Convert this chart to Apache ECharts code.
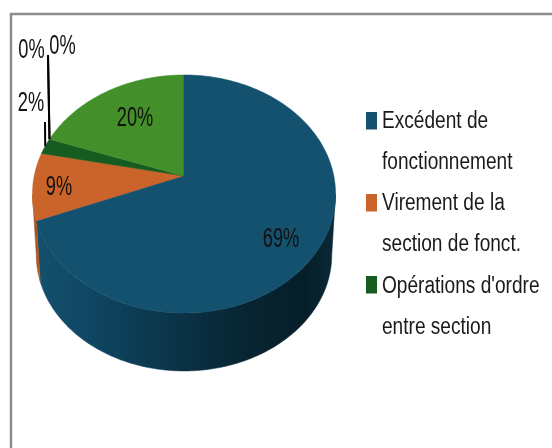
<!DOCTYPE html>
<html><head><meta charset="utf-8">
<style>html,body{margin:0;padding:0;background:#fff}#c{width:552px;height:448px}</style>
<script src="https://cdn.jsdelivr.net/npm/echarts@6/dist/echarts.min.js"></script>
</head><body><div id="c"></div>
<script>
const categories = ["Excédent de\nfonctionnement", "Virement de la\nsection de fonct.", "Opérations d'ordre\nentre section", "", " ", "  "];
const values = [69.0, 9.2, 2.2, 0, 0, 19.6];
const legendItems = categories.slice(0, 3);

const colors = ["#13516f", "#cb642a", "#165c20", "#13516f", "#cb642a", "#43902a"];
const labelPos = [[281,239],[59,187],[31,103],[31.5,50],[62.5,46.5],[135,118]];
const leaderEnd = [null,null,[45,122],[48,55],[48,55],null];

// Perspective of the pie's top circle
const AX = 184, AY = 176, A = 149.8, B = 116.3, K = -0.151;
const SHRINK = 0.975, DROP = 61.4;
const total = values.reduce((a,b)=>a+b,0);

function topPt(phiDeg){
  const p = phiDeg*Math.PI/180, x = Math.sin(p), y = -Math.cos(p), d = 1+K*y;
  return [AX + A*x/d, AY + B*y/d];
}
function botPt(phiDeg){
  const t = topPt(phiDeg);
  return [AX + (t[0]-AX)*SHRINK, AY + (t[1]-AY)*SHRINK + DROP];
}
function arc(f, a, b){
  const pts = [], n = Math.max(2, Math.ceil(Math.abs(b-a)));
  for(let i=0;i<=n;i++) pts.push(f(a+(b-a)*i/n));
  return pts;
}
const wallFill = (c) => new echarts.graphic.LinearGradient(0,0,1,0,c);
const wallStops = {
  0: [{offset:0,color:"#13516f"},{offset:.2,color:"#0f4560"},{offset:.45,color:"#0b3449"},{offset:.7,color:"#072531"},{offset:.9,color:"#061e29"},{offset:1,color:"#0a2a39"}],
  1: [{offset:0,color:"#a0501f"},{offset:1,color:"#b85a25"}]
};
function renderSlice(params, api){
  const i = params.seriesIndex, v = api.value(0);
  let cum = 0;
  for(let k=0;k<i;k++) cum += values[k];
  const a = cum/total*360, b = (cum+v)/total*360, children = [];
  if(v > 0){
    const fa = Math.max(a,98.7), fb = Math.min(b,261.3);
    if(fb > fa){
      const pts = arc(topPt,fa,fb).concat(arc(botPt,fb,fa));
      const fill = wallFill(wallStops[i] || wallStops[0]);
      children.push({type:"polygon",shape:{points:pts},style:{fill,stroke:fill,lineWidth:.5},z2:1});
    }
    children.push({type:"polygon",shape:{points:[[AX,AY]].concat(arc(topPt,a,b))},
      style:{fill:colors[i],stroke:colors[i],lineWidth:.5},z2:i===0?3:2});
  }
  if(leaderEnd[i]){
    const s = topPt((a+b)/2), e = leaderEnd[i];
    children.push({type:"line",shape:{x1:s[0],y1:s[1],x2:e[0],y2:e[1]},style:{stroke:"#000",lineWidth:2},z2:4});
  }
  children.push({type:"text",x:labelPos[i][0],y:labelPos[i][1],scaleX:.76,scaleY:1.18,z2:5,
    style:{text:Math.round(v/total*100)+"%",fill:"#111",align:"center",verticalAlign:"middle",
      font:'24px "Liberation Sans"'}});
  return {type:"group",children};
}
const legendGraphic = legendItems.flatMap((name,i)=>[
  {type:"rect",silent:true,shape:{x:366,y:112+82*i,width:11,height:17.5},style:{fill:colors[i]}},
  {type:"text",silent:true,x:382,y:101+82.5*i,scaleX:.83,
    style:{text:name,fill:"#1a1a1a",font:'23px "Liberation Sans"',lineHeight:41,align:"left",verticalAlign:"top"}}
]);
const chart = echarts.init(document.getElementById("c"),null,{renderer:"canvas"});
chart.setOption({
  animation:false,
  color:colors,
  graphic:[{type:"polyline",silent:true,shape:{points:[[11,448],[11,14],[552,14]]},style:{fill:null,stroke:"#8c8c8c",lineWidth:2.5}}].concat(legendGraphic),
  series:categories.map((name,i)=>({
    type:"custom",name,coordinateSystem:"none",silent:true,clip:false,
    renderItem:renderSlice,data:[[values[i]]],encode:{value:0}
  }))
});
</script></body></html>
